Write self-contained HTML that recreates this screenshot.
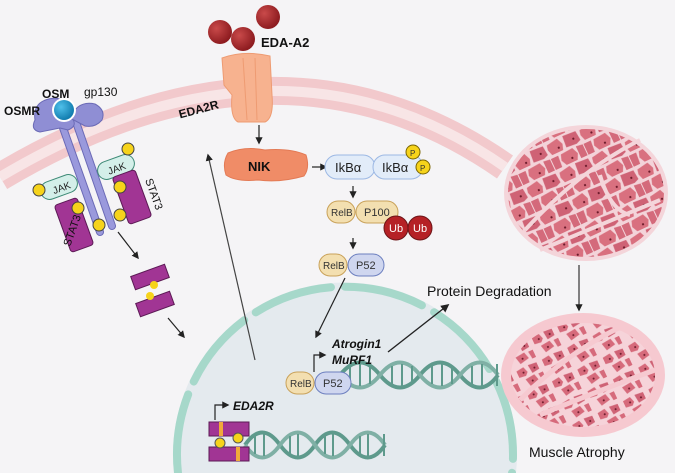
<!DOCTYPE html>
<html><head><meta charset="utf-8"><style>
html,body{margin:0;padding:0;background:#f5f4f6;width:675px;height:473px;overflow:hidden}
svg{display:block;overflow:hidden}
text{font-family:"Liberation Sans",Arial,sans-serif}
</style></head><body>
<svg width="675" height="473" viewBox="0 0 675 473" xmlns="http://www.w3.org/2000/svg">
<defs>
<clipPath id="frame"><rect width="675" height="473"/></clipPath>
<marker id="ah" viewBox="0 0 10 10" refX="8" refY="5" markerWidth="6" markerHeight="6" orient="auto"><path d="M0,0 L10,5 L0,10 z" fill="#222"/></marker>
<pattern id="cells" width="36" height="30" patternUnits="userSpaceOnUse" patternTransform="rotate(-25)">
<rect width="36" height="30" fill="#f3d3d9"/>
<path d="M2 3 L14 1 L17 8 L15 14 L3 14 L1 8Z" fill="#d9707f"/>
<path d="M20 1 L34 2 L35 12 L30 14 L19 13 Z" fill="#cf6275"/>
<path d="M11 17 L24 16 L27 23 L24 29 L12 29 L9 23Z" fill="#d9707f"/>
<path d="M28 16 L35 17 L35 29 L28 29Z" fill="#d46a7b"/>
<path d="M0 17 L8 17 L7 29 L0 29Z" fill="#d46a7b"/>
<circle cx="12" cy="10" r="1.1" fill="#6b1a2a"/><circle cx="29" cy="8" r="1.1" fill="#6b1a2a"/><circle cx="20" cy="25" r="1.1" fill="#6b1a2a"/>
</pattern>
<pattern id="cells2" width="28" height="24" patternUnits="userSpaceOnUse" patternTransform="rotate(-25)">
<rect width="28" height="24" fill="#f6d3d9"/>
<path d="M3 3 L11 2 L13 8 L10 11 L3 10Z" fill="#d66a7b"/>
<path d="M16 2 L25 3 L25 10 L17 11Z" fill="#cf6275"/>
<path d="M8 14 L18 13 L20 20 L10 22Z" fill="#d66a7b"/>
<path d="M22 14 L27 14 L27 22 L23 22Z" fill="#d66a7b"/>
<circle cx="9" cy="7" r="1" fill="#6b1a2a"/><circle cx="21" cy="7" r="1" fill="#6b1a2a"/><circle cx="14" cy="18" r="1" fill="#6b1a2a"/>
</pattern>
<radialGradient id="ball" cx="35%" cy="35%" r="65%"><stop offset="0" stop-color="#c94a4a"/><stop offset="1" stop-color="#8e1c20"/></radialGradient>
<radialGradient id="osm" cx="35%" cy="35%" r="65%"><stop offset="0" stop-color="#4fc0ea"/><stop offset="1" stop-color="#137eb0"/></radialGradient>
</defs>
<rect width="675" height="473" fill="#f5f4f6"/>
<g clip-path="url(#frame)">
<path d="M0 177 Q 280 10 505 167" fill="none" stroke="#f2c9cc" stroke-width="28"/>
<path d="M0 177 Q 280 10 505 167" fill="none" stroke="#f8e5e6" stroke-width="10"/>

<path d="M174 473 A172 172 0 1 1 516 473 Z" fill="#e4eaee"/>
<path d="M178 473 A168 168 0 1 1 512 473" fill="none" stroke="#a6d8ca" stroke-width="8" stroke-linecap="round" stroke-dasharray="80 14"/>
</g>

<circle cx="268" cy="17" r="12" fill="url(#ball)"/>
<circle cx="220" cy="32" r="12" fill="url(#ball)"/>
<circle cx="243" cy="39" r="12" fill="url(#ball)"/>
<text x="261" y="47" font-size="13" font-weight="bold" fill="#111">EDA-A2</text>
<path d="M222 58 Q245 50 270 56 L272 95 Q274 118 265 122 L238 122 Q230 118 232 95 L224 85 Z" fill="#f7b28f" stroke="#ee9b72" stroke-width="1"/>
<line x1="243" y1="58" x2="247" y2="120" stroke="#ee9b72"/>
<line x1="255" y1="58" x2="257" y2="120" stroke="#ee9b72"/>
<text x="178" y="113" font-size="12" font-weight="bold" fill="#111" transform="rotate(-15 200 108)">EDA2R</text>
<line x1="259" y1="125" x2="259" y2="143" stroke="#222" stroke-width="1.2" marker-end="url(#ah)"/>

<path d="M228 153 Q245 146 265 150 Q290 148 306 155 Q310 168 304 176 Q280 183 258 180 Q236 182 226 175 Q222 163 228 153 Z" fill="#f08c67" stroke="#e37a55"/>
<text x="248" y="171" font-size="13" font-weight="bold" fill="#111">NIK</text>
<line x1="312" y1="167" x2="326" y2="167" stroke="#222" stroke-width="1.2" marker-end="url(#ah)"/>

<rect x="325" y="155" width="50" height="24" rx="12" fill="#e2ecf9" stroke="#9cb8e4"/>
<text x="335" y="172" font-size="13" fill="#222">IkBα</text>
<rect x="373" y="155" width="50" height="24" rx="12" fill="#e2ecf9" stroke="#9cb8e4"/>
<text x="382" y="172" font-size="13" fill="#222">IkBα</text>
<circle cx="413" cy="152" r="7" fill="#f6d31b" stroke="#7a6500"/><text x="410" y="156" font-size="8" fill="#333">P</text>
<circle cx="423" cy="167" r="7" fill="#f6d31b" stroke="#7a6500"/><text x="420" y="171" font-size="8" fill="#333">P</text>
<line x1="353" y1="186" x2="353" y2="197" stroke="#222" stroke-width="1.2" marker-end="url(#ah)"/>

<rect x="327" y="201" width="28" height="22" rx="11" fill="#f3dfb0" stroke="#c9a25a"/>
<text x="331" y="216" font-size="10" fill="#333">RelB</text>
<rect x="356" y="201" width="42" height="22" rx="11" fill="#f3dfb0" stroke="#c9a25a"/>
<text x="364" y="216" font-size="11" fill="#333">P100</text>
<circle cx="396" cy="228" r="12" fill="#b52126" stroke="#6d1418"/>
<circle cx="420" cy="228" r="12" fill="#b52126" stroke="#6d1418"/>
<text x="389" y="232" font-size="11" fill="#fff">Ub</text>
<text x="413" y="232" font-size="11" fill="#fff">Ub</text>
<line x1="353" y1="238" x2="353" y2="248" stroke="#222" stroke-width="1.2" marker-end="url(#ah)"/>

<rect x="319" y="254" width="28" height="22" rx="11" fill="#f3dfb0" stroke="#c9a25a"/>
<text x="323" y="269" font-size="10" fill="#333">RelB</text>
<rect x="348" y="254" width="36" height="22" rx="11" fill="#cfd6ef" stroke="#6c7fbf"/>
<text x="356" y="269" font-size="11" fill="#333">P52</text>
<line x1="345" y1="278" x2="316" y2="337" stroke="#222" stroke-width="1.2" marker-end="url(#ah)"/>

<g stroke="#5e9a8c" stroke-width="4" fill="none">
<path d="M340 375 Q360 350 380 375 T420 375 T460 375 T498 375"/>
<path d="M340 375 Q360 400 380 375 T420 375 T460 375 T498 375" stroke="#7fb0a5"/>
<path d="M245 445 Q262 420 280 445 T315 445 T350 445 T385 445"/>
<path d="M245 445 Q262 470 280 445 T315 445 T350 445 T385 445" stroke="#7fb0a5"/>
</g>
<g stroke="#5e9a8c" stroke-width="2">
<line x1="350" y1="366" x2="350" y2="384"/><line x1="360" y1="364" x2="360" y2="386"/><line x1="370" y1="366" x2="370" y2="384"/>
<line x1="392" y1="366" x2="392" y2="384"/><line x1="402" y1="364" x2="402" y2="386"/><line x1="412" y1="366" x2="412" y2="384"/>
<line x1="432" y1="366" x2="432" y2="384"/><line x1="442" y1="364" x2="442" y2="386"/><line x1="452" y1="366" x2="452" y2="384"/>
<line x1="472" y1="366" x2="472" y2="384"/><line x1="482" y1="364" x2="482" y2="386"/><line x1="497" y1="364" x2="497" y2="386"/>
<line x1="255" y1="436" x2="255" y2="454"/><line x1="264" y1="434" x2="264" y2="456"/><line x1="290" y1="436" x2="290" y2="454"/><line x1="298" y1="434" x2="298" y2="456"/>
<line x1="325" y1="436" x2="325" y2="454"/><line x1="333" y1="434" x2="333" y2="456"/><line x1="360" y1="436" x2="360" y2="454"/><line x1="368" y1="434" x2="368" y2="456"/><line x1="384" y1="434" x2="384" y2="456"/>
</g>

<rect x="286" y="372" width="28" height="22" rx="11" fill="#f3dfb0" stroke="#c9a25a"/>
<text x="290" y="387" font-size="10" fill="#333">RelB</text>
<rect x="315" y="372" width="36" height="22" rx="11" fill="#cfd6ef" stroke="#6c7fbf"/>
<text x="323" y="387" font-size="11" fill="#333">P52</text>
<path d="M314 372 L314 355 L325 355" fill="none" stroke="#222" stroke-width="1.2" marker-end="url(#ah)"/>
<text x="332" y="348" font-size="12" font-weight="bold" font-style="italic" fill="#111">Atrogin1</text>
<text x="332" y="364" font-size="12" font-weight="bold" font-style="italic" fill="#111">MuRF1</text>
<line x1="388" y1="352" x2="448" y2="305" stroke="#222" stroke-width="1.4" marker-end="url(#ah)"/>
<text x="427" y="296" font-size="14" fill="#111">Protein Degradation</text>

<path d="M215 420 L215 405 L228 405" fill="none" stroke="#222" stroke-width="1.2" marker-end="url(#ah)"/>
<text x="233" y="410" font-size="12" font-weight="bold" font-style="italic" fill="#111">EDA2R</text>
<rect x="209" y="422" width="40" height="14" fill="#a13594" stroke="#5c1a55"/>
<rect x="219" y="422" width="4" height="14" fill="#f0a93a"/>
<rect x="209" y="447" width="40" height="14" fill="#a13594" stroke="#5c1a55"/>
<rect x="236" y="447" width="4" height="14" fill="#f0a93a"/>
<circle cx="220" cy="443" r="5" fill="#f6d31b" stroke="#555"/><circle cx="238" cy="438" r="5" fill="#f6d31b" stroke="#555"/>

<line x1="255" y1="360" x2="208" y2="155" stroke="#444" stroke-width="1.2" marker-end="url(#ah)"/>

<line x1="62" y1="125" x2="100" y2="232" stroke="#6b6ab6" stroke-width="8" stroke-linecap="round"/>
<line x1="62" y1="125" x2="100" y2="232" stroke="#9a99dc" stroke-width="6" stroke-linecap="round"/>
<line x1="76" y1="122" x2="112" y2="226" stroke="#6b6ab6" stroke-width="8" stroke-linecap="round"/>
<line x1="76" y1="122" x2="112" y2="226" stroke="#9a99dc" stroke-width="6" stroke-linecap="round"/>
<path d="M35 120 Q32 100 55 98 Q70 100 72 118 Q78 126 68 130 L60 128 Q50 130 40 132 Q30 130 35 120 Z" fill="#8f8ed4" stroke="#6b6ab6"/>
<path d="M70 118 Q78 100 95 104 Q106 110 102 120 Q95 128 85 126 Z" fill="#8f8ed4" stroke="#6b6ab6"/>
<circle cx="64" cy="110" r="12" fill="#fff"/>
<circle cx="64" cy="110" r="10" fill="url(#osm)"/>
<text x="42" y="98" font-size="12" font-weight="bold" fill="#111">OSM</text>
<text x="4" y="115" font-size="12" font-weight="bold" fill="#111">OSMR</text>
<text x="84" y="96" font-size="12" fill="#111">gp130</text>
<rect x="40" y="178" width="38" height="18" rx="9" fill="#d4efe9" stroke="#3d8a76" transform="rotate(-20 59 187)"/>
<text x="52" y="192" font-size="10" fill="#222" transform="rotate(-20 59 187)">JAK</text>
<circle cx="39" cy="190" r="6" fill="#f6d31b" stroke="#444"/>
<rect x="97" y="158" width="38" height="18" rx="9" fill="#d4efe9" stroke="#3d8a76" transform="rotate(-20 116 167)"/>
<text x="107" y="172" font-size="10" fill="#222" transform="rotate(-20 116 167)">JAK</text>
<circle cx="128" cy="149" r="6" fill="#f6d31b" stroke="#444"/>
<rect x="62" y="200" width="24" height="50" rx="3" fill="#a13594" stroke="#5c1a55" transform="rotate(-20 74 225)"/>
<rect x="120" y="172" width="24" height="50" rx="3" fill="#a13594" stroke="#5c1a55" transform="rotate(-20 132 197)"/>
<circle cx="78" cy="208" r="6" fill="#f6d31b" stroke="#444"/><circle cx="99" cy="225" r="6" fill="#f6d31b" stroke="#444"/>
<circle cx="120" cy="187" r="6" fill="#f6d31b" stroke="#444"/><circle cx="120" cy="215" r="6" fill="#f6d31b" stroke="#444"/>
<text x="0" y="0" font-size="11" fill="#111" transform="translate(70 247) rotate(-70)">STAT3</text>
<text x="0" y="0" font-size="11" fill="#111" transform="translate(145 180) rotate(70)">STAT3</text>
<line x1="118" y1="232" x2="138" y2="258" stroke="#222" stroke-width="1.2" marker-end="url(#ah)"/>

<rect x="132" y="270" width="36" height="14" fill="#a13594" stroke="#5c1a55" transform="rotate(-20 150 277)"/>
<rect x="137" y="297" width="36" height="14" fill="#a13594" stroke="#5c1a55" transform="rotate(-20 155 304)"/>
<circle cx="154" cy="285" r="4" fill="#f6d31b"/><circle cx="150" cy="296" r="4" fill="#f6d31b"/>
<line x1="168" y1="318" x2="184" y2="337" stroke="#222" stroke-width="1.2" marker-end="url(#ah)"/>

<ellipse cx="586" cy="193" rx="82" ry="68" fill="#f4d5da"/>
<ellipse cx="586" cy="193" rx="78" ry="64" fill="url(#cells)"/>
<path d="M525 230 Q580 170 640 140 M540 250 Q600 225 660 200 M600 175 Q610 210 630 215" stroke="#f4d5da" stroke-width="4" fill="none"/>
<line x1="579" y1="265" x2="579" y2="310" stroke="#333" stroke-width="1.2" marker-end="url(#ah)"/>
<ellipse cx="583" cy="375" rx="82" ry="62" fill="#f6c9d0"/>
<ellipse cx="583" cy="375" rx="72" ry="52" fill="url(#cells2)"/>
<path d="M520 400 Q570 350 625 325 M540 415 Q600 390 655 370" stroke="#f6c9d0" stroke-width="5" fill="none"/>
<text x="529" y="457" font-size="14" fill="#111">Muscle Atrophy</text>
</svg>
</body></html>
